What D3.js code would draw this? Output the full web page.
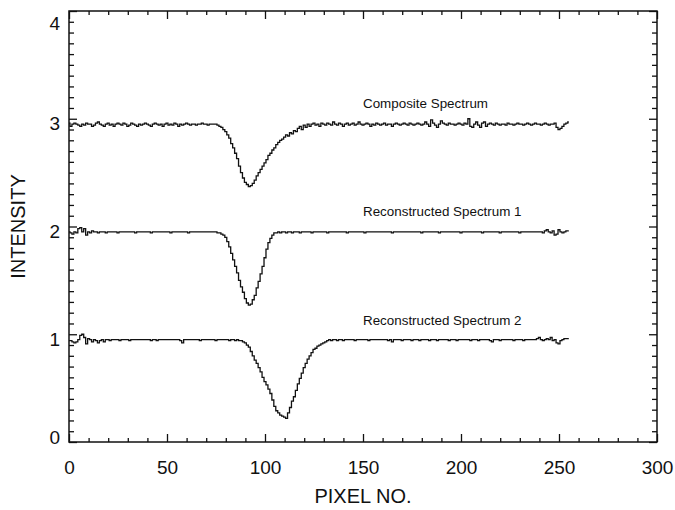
<!DOCTYPE html>
<html>
<head>
<meta charset="utf-8">
<script src="https://cdn.jsdelivr.net/npm/d3@7"></script>
<style>
  body { margin: 0; background: #fff; }
  svg { display: block; font-family: "Liberation Sans", Arial, Helvetica, sans-serif; }
  .tick line { stroke: #111; stroke-width: 1.3; }
  .tick text { fill: #111; font-size: 19px; }
</style>
</head>
<body>
<div id="chart"></div>
<script>
// Pixel values 0..255
const composite = [
  2.96, 2.93, 2.95, 2.96, 2.95, 2.94, 2.93, 2.95, 2.94, 2.96, 2.95, 2.95, 2.93, 2.94, 2.96, 2.97,
  2.95, 2.94, 2.93, 2.95, 2.96, 2.94, 2.95, 2.93, 2.95, 2.96, 2.95, 2.94, 2.96, 2.95, 2.93, 2.94,
  2.96, 2.95, 2.94, 2.93, 2.95, 2.94, 2.95, 2.96, 2.95, 2.94, 2.93, 2.95, 2.96, 2.95, 2.94, 2.95,
  2.93, 2.95, 2.96, 2.94, 2.95, 2.94, 2.96, 2.95, 2.93, 2.95, 2.94, 2.95, 2.96, 2.95, 2.94, 2.95,
  2.95, 2.94, 2.95, 2.95, 2.96, 2.95, 2.95, 2.94, 2.95, 2.95, 2.95, 2.95, 2.94, 2.93, 2.92, 2.90,
  2.88, 2.85, 2.82, 2.77, 2.73, 2.68, 2.63, 2.56, 2.50, 2.45, 2.41, 2.39, 2.37, 2.38, 2.40, 2.43,
  2.47, 2.50, 2.53, 2.56, 2.59, 2.62, 2.66, 2.68, 2.71, 2.73, 2.76, 2.78, 2.80, 2.81, 2.83, 2.85,
  2.84, 2.87, 2.86, 2.89, 2.88, 2.91, 2.93, 2.90, 2.94, 2.92, 2.95, 2.93, 2.95, 2.96, 2.94, 2.95,
  2.93, 2.96, 2.95, 2.94, 2.96, 2.95, 2.94, 2.97, 2.95, 2.94, 2.96, 2.95, 2.93, 2.95, 2.96, 2.94,
  2.95, 2.96, 2.94, 2.95, 2.97, 2.95, 2.94, 2.95, 2.96, 2.95, 2.93, 2.95, 2.94, 2.96, 2.95, 2.94,
  2.95, 2.96, 2.94, 2.95, 2.95, 2.93, 2.95, 2.96, 2.95, 2.94, 2.95, 2.96, 2.95, 2.94, 2.96, 2.95,
  2.94, 2.95, 2.96, 2.95, 2.94, 2.95, 2.97, 2.95, 2.93, 2.99, 2.96, 2.94, 2.92, 2.95, 2.98, 2.96,
  2.95, 2.94, 2.96, 2.95, 2.95, 2.94, 2.95, 2.96, 2.95, 2.94, 2.96, 2.95, 3.00, 2.93, 2.92, 2.95,
  2.97, 2.94, 2.92, 2.96, 2.97, 2.93, 2.95, 2.96, 2.95, 2.94, 2.96, 2.95, 2.94, 2.95, 2.95, 2.94,
  2.96, 2.95, 2.95, 2.94, 2.95, 2.96, 2.95, 2.95, 2.94, 2.95, 2.96, 2.95, 2.94, 2.95, 2.96, 2.95,
  2.95, 2.94, 2.95, 2.96, 2.95, 2.94, 2.95, 2.95, 2.96, 2.92, 2.90, 2.91, 2.93, 2.95, 2.96, 2.97
];

const spectrum1 = [
  1.95, 1.94, 1.93, 1.95, 1.94, 1.98, 1.99, 1.95, 1.98, 1.92, 1.95, 1.94, 1.96, 1.95, 1.95, 1.94,
  1.95, 1.95, 1.95, 1.94, 1.95, 1.95, 1.95, 1.95, 1.95, 1.94, 1.95, 1.95, 1.95, 1.95, 1.95, 1.95,
  1.95, 1.95, 1.94, 1.95, 1.95, 1.95, 1.95, 1.95, 1.95, 1.95, 1.94, 1.95, 1.95, 1.95, 1.95, 1.95,
  1.95, 1.95, 1.95, 1.95, 1.94, 1.95, 1.95, 1.95, 1.95, 1.95, 1.95, 1.95, 1.95, 1.94, 1.95, 1.95,
  1.95, 1.95, 1.95, 1.95, 1.95, 1.95, 1.95, 1.95, 1.95, 1.95, 1.95, 1.95, 1.94, 1.94, 1.93, 1.92,
  1.90, 1.86, 1.81, 1.75, 1.69, 1.63, 1.57, 1.50, 1.44, 1.39, 1.33, 1.29, 1.27, 1.28, 1.32, 1.36,
  1.43, 1.49, 1.56, 1.63, 1.71, 1.79, 1.85, 1.89, 1.92, 1.94, 1.94, 1.95, 1.94, 1.95, 1.95, 1.94,
  1.95, 1.95, 1.94, 1.95, 1.95, 1.95, 1.94, 1.95, 1.95, 1.95, 1.95, 1.95, 1.94, 1.95, 1.95, 1.95,
  1.95, 1.95, 1.95, 1.95, 1.94, 1.95, 1.95, 1.95, 1.95, 1.95, 1.95, 1.95, 1.95, 1.95, 1.94, 1.95,
  1.95, 1.95, 1.95, 1.95, 1.95, 1.95, 1.95, 1.94, 1.95, 1.95, 1.95, 1.95, 1.95, 1.95, 1.95, 1.95,
  1.95, 1.95, 1.95, 1.95, 1.95, 1.94, 1.95, 1.95, 1.95, 1.95, 1.95, 1.95, 1.95, 1.95, 1.95, 1.95,
  1.95, 1.95, 1.95, 1.95, 1.94, 1.95, 1.95, 1.95, 1.95, 1.95, 1.95, 1.95, 1.95, 1.94, 1.95, 1.95,
  1.95, 1.95, 1.95, 1.95, 1.95, 1.95, 1.95, 1.95, 1.94, 1.95, 1.95, 1.95, 1.95, 1.95, 1.95, 1.95,
  1.95, 1.95, 1.95, 1.94, 1.95, 1.95, 1.95, 1.95, 1.95, 1.95, 1.95, 1.95, 1.94, 1.95, 1.95, 1.95,
  1.95, 1.95, 1.95, 1.95, 1.95, 1.95, 1.94, 1.95, 1.95, 1.95, 1.95, 1.95, 1.95, 1.95, 1.95, 1.95,
  1.95, 1.95, 1.94, 1.96, 1.97, 1.95, 1.94, 1.96, 1.92, 1.93, 1.97, 1.95, 1.94, 1.95, 1.96, 1.96
];

const spectrum2 = [
  0.94, 0.94, 0.93, 0.92, 0.93, 0.95, 0.99, 1.00, 0.97, 0.91, 0.96, 0.95, 0.93, 0.95, 0.94, 0.92,
  0.94, 0.95, 0.93, 0.95, 0.95, 0.94, 0.95, 0.95, 0.95, 0.95, 0.94, 0.95, 0.95, 0.95, 0.95, 0.94,
  0.95, 0.95, 0.95, 0.95, 0.95, 0.95, 0.95, 0.95, 0.95, 0.95, 0.94, 0.95, 0.95, 0.94, 0.95, 0.95,
  0.95, 0.95, 0.95, 0.95, 0.95, 0.95, 0.95, 0.95, 0.95, 0.94, 0.92, 0.95, 0.95, 0.95, 0.95, 0.95,
  0.95, 0.95, 0.95, 0.94, 0.95, 0.95, 0.95, 0.95, 0.95, 0.95, 0.95, 0.94, 0.95, 0.95, 0.95, 0.95,
  0.95, 0.95, 0.94, 0.95, 0.95, 0.94, 0.95, 0.94, 0.94, 0.93, 0.92, 0.90, 0.88, 0.84, 0.80, 0.76,
  0.73, 0.69, 0.65, 0.60, 0.56, 0.53, 0.49, 0.45, 0.39, 0.33, 0.29, 0.27, 0.25, 0.24, 0.23, 0.22,
  0.27, 0.32, 0.38, 0.42, 0.48, 0.54, 0.59, 0.64, 0.69, 0.73, 0.77, 0.80, 0.83, 0.86, 0.87, 0.89,
  0.90, 0.91, 0.92, 0.93, 0.94, 0.95, 0.94, 0.95, 0.95, 0.94, 0.95, 0.95, 0.94, 0.95, 0.95, 0.95,
  0.95, 0.95, 0.94, 0.95, 0.95, 0.95, 0.95, 0.95, 0.95, 0.94, 0.95, 0.95, 0.95, 0.95, 0.95, 0.95,
  0.95, 0.95, 0.95, 0.94, 0.95, 0.93, 0.95, 0.95, 0.95, 0.95, 0.94, 0.95, 0.95, 0.95, 0.95, 0.94,
  0.95, 0.95, 0.95, 0.94, 0.95, 0.95, 0.95, 0.95, 0.94, 0.95, 0.95, 0.95, 0.94, 0.95, 0.95, 0.95,
  0.95, 0.95, 0.94, 0.95, 0.95, 0.95, 0.94, 0.95, 0.95, 0.95, 0.95, 0.95, 0.95, 0.94, 0.95, 0.95,
  0.95, 0.94, 0.95, 0.95, 0.95, 0.95, 0.95, 0.94, 0.93, 0.95, 0.95, 0.95, 0.94, 0.95, 0.95, 0.95,
  0.95, 0.95, 0.95, 0.94, 0.95, 0.95, 0.95, 0.95, 0.94, 0.95, 0.95, 0.95, 0.95, 0.95, 0.95, 0.96,
  0.97, 0.95, 0.94, 0.95, 0.96, 0.95, 0.97, 0.94, 0.95, 0.92, 0.91, 0.94, 0.95, 0.96, 0.96, 0.96
];

const seriesNames = ["Composite Spectrum", "Reconstructed Spectrum 1", "Reconstructed Spectrum 2"];
const labelAt = [[150, 3.1], [150, 2.1], [150, 1.09]];   // data coords of the annotations
const xTicks = [0, 50, 100, 150, 200, 250, 300];
const yTicks = [0, 1, 2, 3, 4];
const xTitle = "PIXEL NO.";
const yTitle = "INTENSITY";

const W = 675, H = 510;
const margin = {top: 11, right: 18, bottom: 68, left: 69};
const width = W - margin.left - margin.right;
const height = H - margin.top - margin.bottom;

const svg = d3.select("#chart").append("svg")
    .attr("width", W).attr("height", H);
const g = svg.append("g")
    .attr("transform", `translate(${margin.left},${margin.top})`);

const x = d3.scaleLinear().domain([0, 300]).range([0, width]);
const y = d3.scaleLinear().domain([0, 4]).range([height, 0]);

const xMinor = d3.range(0, 301, 10).filter(v => v % 50 !== 0);
const yMinor = d3.range(0, 41).map(v => v / 10).filter((v, i) => i % 10 !== 0);

function noDomain(sel) { sel.select(".domain").remove(); }

// bottom: labelled majors + minors (ticks point inward)
g.append("g").attr("transform", `translate(0,${height})`)
    .call(d3.axisBottom(x).tickValues(xTicks).tickSize(-8).tickPadding(19).tickFormat(d3.format("d")))
    .call(noDomain)
    .call(a => a.selectAll("text").attr("font-size", 19));
g.append("g").attr("transform", `translate(0,${height})`)
    .call(d3.axisBottom(x).tickValues(xMinor).tickSize(-4).tickFormat(""))
    .call(noDomain);

// top mirror
g.append("g")
    .call(d3.axisTop(x).tickValues(xTicks).tickSize(-8).tickFormat(""))
    .call(noDomain);
g.append("g")
    .call(d3.axisTop(x).tickValues(xMinor).tickSize(-4).tickFormat(""))
    .call(noDomain);

// left: labels are kept inside the frame like in the print
g.append("g")
    .call(d3.axisLeft(y).tickValues(yTicks).tickSize(-8).tickPadding(9).tickFormat(d3.format("d")))
    .call(noDomain)
    .call(a => a.selectAll("text")
        .attr("font-size", 19)
        .attr("y", d => Math.min(Math.max(5, y(4) - y(d) + 12), y(0) - y(d) - 5)));
g.append("g")
    .call(d3.axisLeft(y).tickValues(yMinor).tickSize(-5).tickFormat(""))
    .call(noDomain);

// right mirror
g.append("g").attr("transform", `translate(${width},0)`)
    .call(d3.axisRight(y).tickValues(yTicks).tickSize(-8).tickFormat(""))
    .call(noDomain);
g.append("g").attr("transform", `translate(${width},0)`)
    .call(d3.axisRight(y).tickValues(yMinor).tickSize(-5).tickFormat(""))
    .call(noDomain);

// frame
g.append("rect")
    .attr("width", width).attr("height", height)
    .attr("fill", "none").attr("stroke", "#111").attr("stroke-width", 1.5);

// histogram-style spectra
const line = d3.line()
    .x((d, i) => x(i))
    .y(d => y(d))
    .curve(d3.curveStep);

[composite, spectrum1, spectrum2].forEach(s => {
    g.append("path")
        .datum(s)
        .attr("d", line)
        .attr("fill", "none")
        .attr("stroke", "#111")
        .attr("stroke-width", 1.3);
});

// annotations
g.selectAll(".lab")
    .data(seriesNames)
    .join("text")
    .attr("class", "lab")
    .attr("x", (d, i) => x(labelAt[i][0]))
    .attr("y", (d, i) => y(labelAt[i][1]))
    .attr("font-size", 13.4)
    .attr("fill", "#111")
    .text(d => d);

// axis titles
svg.append("text")
    .attr("x", margin.left + width / 2)
    .attr("y", 503)
    .attr("text-anchor", "middle")
    .attr("font-size", 20)
    .attr("fill", "#111")
    .text(xTitle);

svg.append("text")
    .attr("transform", `translate(25,${margin.top + height / 2}) rotate(-90)`)
    .attr("text-anchor", "middle")
    .attr("font-size", 20)
    .attr("fill", "#111")
    .text(yTitle);
</script>
</body>
</html>
